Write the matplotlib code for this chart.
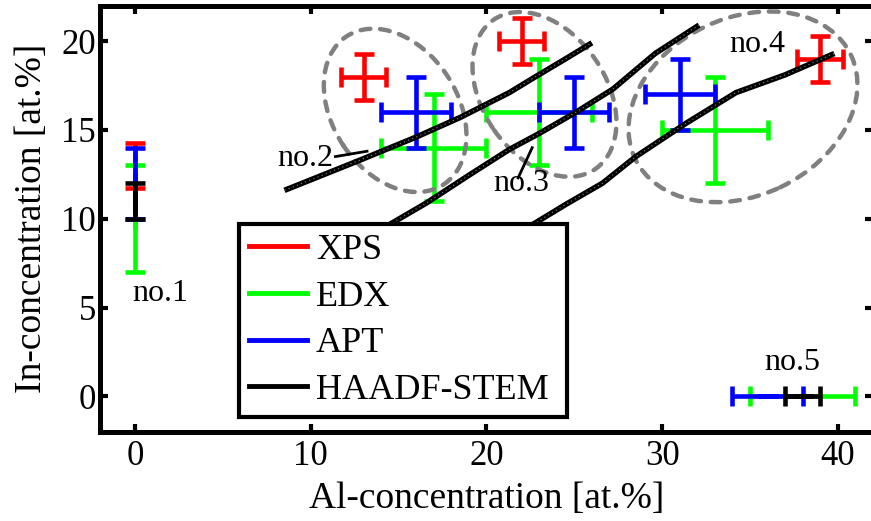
import matplotlib
matplotlib.use('Agg')
import matplotlib.pyplot as plt
from matplotlib.patches import Ellipse

plt.rcParams['font.family'] = ['Liberation Serif', 'DejaVu Serif']

# measured points (Al, In) with error bars, per method
xps_x = [0, 13, 22, 39]
xps_y = [13, 18, 20, 19]
xps_xerr = [0, 1.3, 1.3, 1.3]
xps_yerr = [1.25, 1.3, 1.3, 1.3]

edx_x = [0, 17, 23, 33, 38]
edx_y = [10, 14, 16, 15, 0]
edx_xerr = [0, 3, 3, 3, 3]
edx_yerr = [3, 3, 3, 3, 0]

apt_x = [0, 16, 25, 31, 36]
apt_y = [12, 16, 16, 17, 0]
apt_xerr = [0, 2, 2, 2, 2]
apt_yerr = [2, 2, 2, 2, 0]

haadf_x = [0, 38]
haadf_y = [11, 0]
haadf_xerr = [0, 1]
haadf_yerr = [1, 0]

# HAADF-STEM profiles (black curves)
prof2_x = [8.5, 12.8, 16.0, 18.5, 21.3, 22.8, 24.5, 26.0]
prof2_y = [11.6, 13.3, 14.6, 15.7, 17.1, 18.0, 19.0, 19.9]
prof3_x = [14.0, 16.6, 19.0, 21.3, 23.0, 25.1, 27.2, 29.6, 32.1]
prof3_y = [9.4, 10.9, 12.45, 13.9, 14.8, 16.0, 17.3, 19.3, 20.9]
prof4_x = [22.0, 24.5, 26.6, 28.5, 31.4, 34.2, 37.0, 39.8]
prof4_y = [9.3, 10.8, 12.0, 13.5, 15.4, 17.1, 18.1, 19.3]

# sample groups (dashed ellipses): center x, center y, width, height, angle
ell_cx = [14.8, 23.3, 34.6]
ell_cy = [16.1, 17.0, 16.3]
ell_w = [10.0, 10.2, 13.6]
ell_h = [7.1, 7.0, 10.0]
ell_ang = [-56, -55, 25]

labels = ['no.1', 'no.2', 'no.3', 'no.4', 'no.5']
label_x = [1.4, 9.7, 22.0, 35.4, 37.4]
label_y = [5.8, 13.4, 12.0, 19.8, 1.9]

fig = plt.figure(figsize=(8.71, 5.21), dpi=100)
ax = fig.add_axes([0.1148, 0.1708, 0.8875, 0.8186])

eb = dict(fmt='none', elinewidth=3.3, capsize=7, capthick=3.3)
ax.errorbar(xps_x, xps_y, xerr=xps_xerr, yerr=xps_yerr, ecolor='#ff0000', zorder=2, **eb)
ax.errorbar(edx_x, edx_y, xerr=edx_xerr, yerr=edx_yerr, ecolor='#00ff00', zorder=3, **eb)
ax.errorbar(apt_x, apt_y, xerr=apt_xerr, yerr=apt_yerr, ecolor='#0000ff', zorder=4, **eb)
ax.errorbar(haadf_x, haadf_y, xerr=haadf_xerr, yerr=haadf_yerr, ecolor='black', zorder=5, **eb)

for cx, cy, w, h, a in zip(ell_cx, ell_cy, ell_w, ell_h, ell_ang):
    e = Ellipse((cx, cy), w, h, angle=a, fill=False, edgecolor='#808080',
                lw=3.2, linestyle=(0, (2.2, 2.2)), capstyle='round', zorder=6)
    ax.add_patch(e)

for px, py in [(prof2_x, prof2_y), (prof3_x, prof3_y), (prof4_x, prof4_y)]:
    ax.plot(px, py, color='black', lw=4, solid_capstyle='butt', zorder=7)
    ax.plot(px, py, color='#888888', lw=0.8, linestyle=(0, (1, 3)), zorder=8)

for t, tx, ty in zip(labels, label_x, label_y):
    ax.text(tx, ty, t, fontsize=23, ha='center', va='center', zorder=9)
# leader lines to no.2 and no.3
ax.plot([11.4, 13.2], [13.5, 13.8], color='black', lw=2, zorder=9)
ax.plot([21.8, 22.6], [12.3, 14.0], color='black', lw=2, zorder=9)

# legend handles
h1, = ax.plot([], [], color='#ff0000', lw=3.5, label='XPS')
h2, = ax.plot([], [], color='#00ff00', lw=3.5, label='EDX')
h3, = ax.plot([], [], color='#0000ff', lw=3.5, label='APT')
h4, = ax.plot([], [], color='black', lw=3.5, label='HAADF-STEM')
leg = ax.legend(handles=[h1, h2, h3, h4], loc='lower left',
                bbox_to_anchor=(0.180, 0.035, 0.424, 0.457), mode='expand',
                fontsize=26, fancybox=False, framealpha=1, edgecolor='black',
                handlelength=1.6, handletextpad=0.25, labelspacing=0.37,
                borderpad=0.28, borderaxespad=0)
leg.get_frame().set_linewidth(3)
leg.set_zorder(20)

ax.set_xlim(-2, 42)
ax.set_ylim(-2, 22)
ax.set_xticks([0, 10, 20, 30, 40])
ax.set_yticks([0, 5, 10, 15, 20])
ax.tick_params(direction='in', length=6, width=3, labelsize=25,
               top=True, right=True)
ax.tick_params(axis='x', pad=6)
ax.tick_params(axis='y', pad=3)
for s in ax.spines.values():
    s.set_linewidth(3.6)
ax.set_xlabel('Al-concentration [at.%]', fontsize=27, labelpad=6)
ax.set_ylabel('In-concentration [at.%]', fontsize=27, labelpad=9)

fig.savefig('out.png', dpi=100)
